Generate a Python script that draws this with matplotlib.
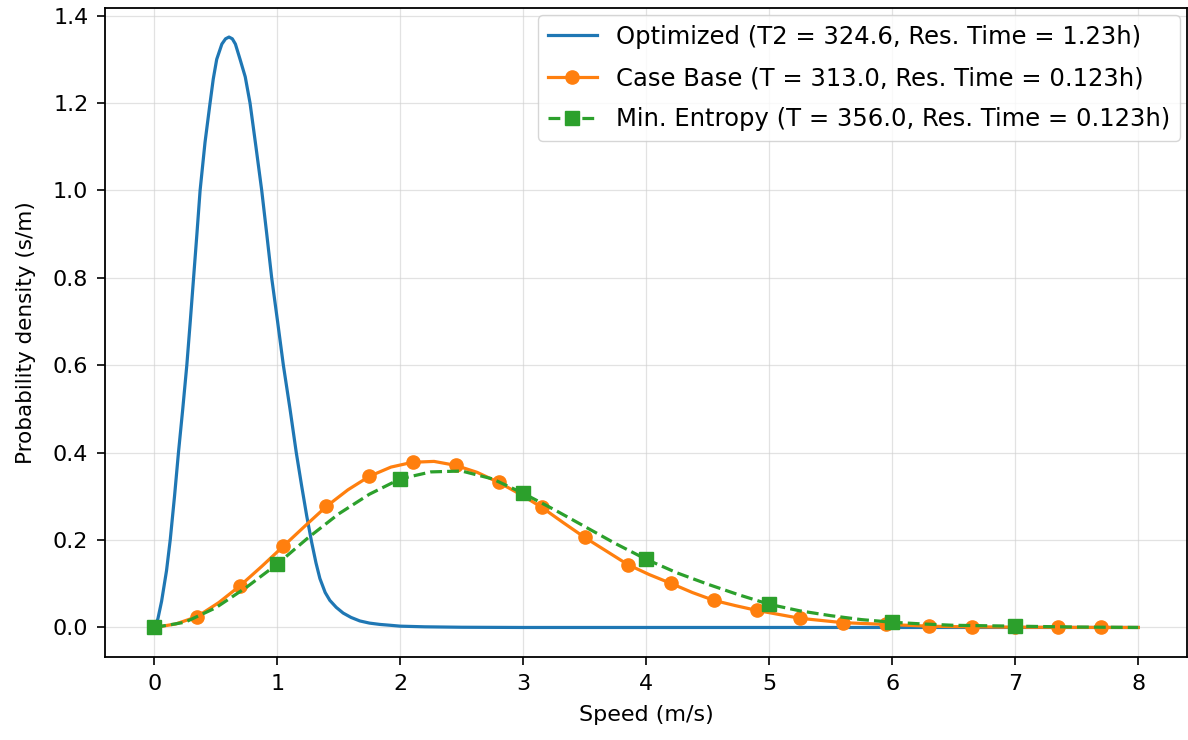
import matplotlib
matplotlib.use("Agg")
import matplotlib.pyplot as plt

# Optimized (blue) curve
opt_x = [0.0, 0.03, 0.06, 0.10, 0.13, 0.165, 0.197, 0.232, 0.265, 0.293, 0.32, 0.347,
         0.373, 0.413, 0.454, 0.48, 0.508, 0.55, 0.58, 0.608, 0.635, 0.66, 0.698,
         0.74, 0.779, 0.827, 0.874, 0.915, 0.955, 1.003, 1.05, 1.104, 1.155, 1.198,
         1.24, 1.28, 1.315, 1.347, 1.39, 1.428, 1.48, 1.536, 1.60, 1.671, 1.75,
         1.834, 1.92, 2.0, 2.2, 2.5, 3.0, 4.0, 5.0, 6.0, 7.0, 8.0]
opt_y = [0.0, 0.02, 0.06, 0.13, 0.20, 0.30, 0.40, 0.50, 0.60, 0.70, 0.80, 0.90,
         1.00, 1.11, 1.20, 1.255, 1.30, 1.335, 1.347, 1.351, 1.347, 1.335, 1.30,
         1.26, 1.20, 1.10, 1.00, 0.90, 0.80, 0.70, 0.60, 0.50, 0.40, 0.325,
         0.255, 0.195, 0.148, 0.112, 0.08, 0.062, 0.046, 0.033, 0.023, 0.015, 0.010,
         0.007, 0.005, 0.003, 0.0015, 0.0005, 0.0, 0.0, 0.0, 0.0, 0.0, 0.0]

# Case Base (orange) curve; every other point carries a marker
base_x = [0.0, 0.175, 0.35, 0.525, 0.70, 0.875, 1.05, 1.225, 1.40, 1.575, 1.75,
          1.925, 2.10, 2.275, 2.45, 2.625, 2.80, 2.975, 3.15, 3.325, 3.50, 3.675,
          3.85, 4.025, 4.20, 4.375, 4.55, 4.725, 4.90, 5.075, 5.25, 5.425, 5.60,
          5.775, 5.95, 6.125, 6.30, 6.475, 6.65, 6.825, 7.00, 7.175, 7.35, 7.525,
          7.70, 8.0]
base_y = [0.0, 0.008, 0.025, 0.057, 0.096, 0.140, 0.186, 0.232, 0.277, 0.315,
          0.346, 0.367, 0.378, 0.380, 0.371, 0.355, 0.332, 0.305, 0.275, 0.240,
          0.206, 0.175, 0.144, 0.121, 0.101, 0.080, 0.062, 0.050, 0.039, 0.030,
          0.021, 0.016, 0.011, 0.009, 0.007, 0.005, 0.003, 0.002, 0.0015, 0.001,
          0.0007, 0.0005, 0.0003, 0.0002, 0.0001, 0.0]

# Min. Entropy (green) curve; markers at whole speeds
ent_x = [0.0, 0.25, 0.5, 0.75, 1.0, 1.25, 1.5, 1.75, 2.0, 2.25, 2.5, 2.75, 3.0,
         3.25, 3.5, 3.75, 4.0, 4.25, 4.5, 4.75, 5.0, 5.25, 5.5, 5.75, 6.0, 6.25,
         6.5, 6.75, 7.0, 7.25, 7.5, 7.75, 8.0]
ent_y = [0.0, 0.012, 0.045, 0.092, 0.145, 0.205, 0.26, 0.305, 0.340, 0.356, 0.358,
         0.340, 0.307, 0.270, 0.231, 0.192, 0.156, 0.125, 0.099, 0.075, 0.053,
         0.038, 0.027, 0.018, 0.012, 0.008, 0.005, 0.004, 0.003, 0.002, 0.001,
         0.0005, 0.0]

labels = ["Optimized (T2 = 324.6, Res. Time = 1.23h)",
          "Case Base (T = 313.0, Res. Time = 0.123h)",
          "Min. Entropy (T = 356.0, Res. Time = 0.123h)"]

plt.rcParams['font.family'] = ['DejaVu Sans']
fig = plt.figure(figsize=(11.88, 7.40), dpi=100)
ax = fig.add_axes([0.0884, 0.1122, 0.9111, 0.8770])

ax.plot(opt_x, opt_y, color='#1f77b4', lw=2.3, label=labels[0])
ax.plot(base_x, base_y, color='#ff7f0e', lw=2.3, marker='o', markersize=9.5,
        markevery=slice(0, len(base_x) - 1, 2), label=labels[1])
ax.plot(ent_x, ent_y, color='#2ca02c', lw=2.3, ls='--', marker='s', markersize=9.5,
        markevery=slice(0, len(ent_x) - 1, 4), label=labels[2])

ax.set_xlim(-0.4, 8.4)
ax.set_ylim(-0.0675, 1.4175)
ax.set_xticks(range(0, 9))
ax.set_yticks([0.0, 0.2, 0.4, 0.6, 0.8, 1.0, 1.2, 1.4])
ax.tick_params(labelsize=16, length=6, width=1.2, pad=6)
for s in ax.spines.values():
    s.set_linewidth(1.3)
ax.grid(True, color='#d0d0d0', alpha=0.6, lw=0.9)
ax.set_xlabel("Speed (m/s)", fontsize=16, labelpad=8)
ax.set_ylabel("Probability density (s/m)", fontsize=15.5, labelpad=12)
ax.legend(loc='upper right', fontsize=17.5, borderaxespad=0.3, labelspacing=0.7)

fig.savefig("out.png", dpi=100)
